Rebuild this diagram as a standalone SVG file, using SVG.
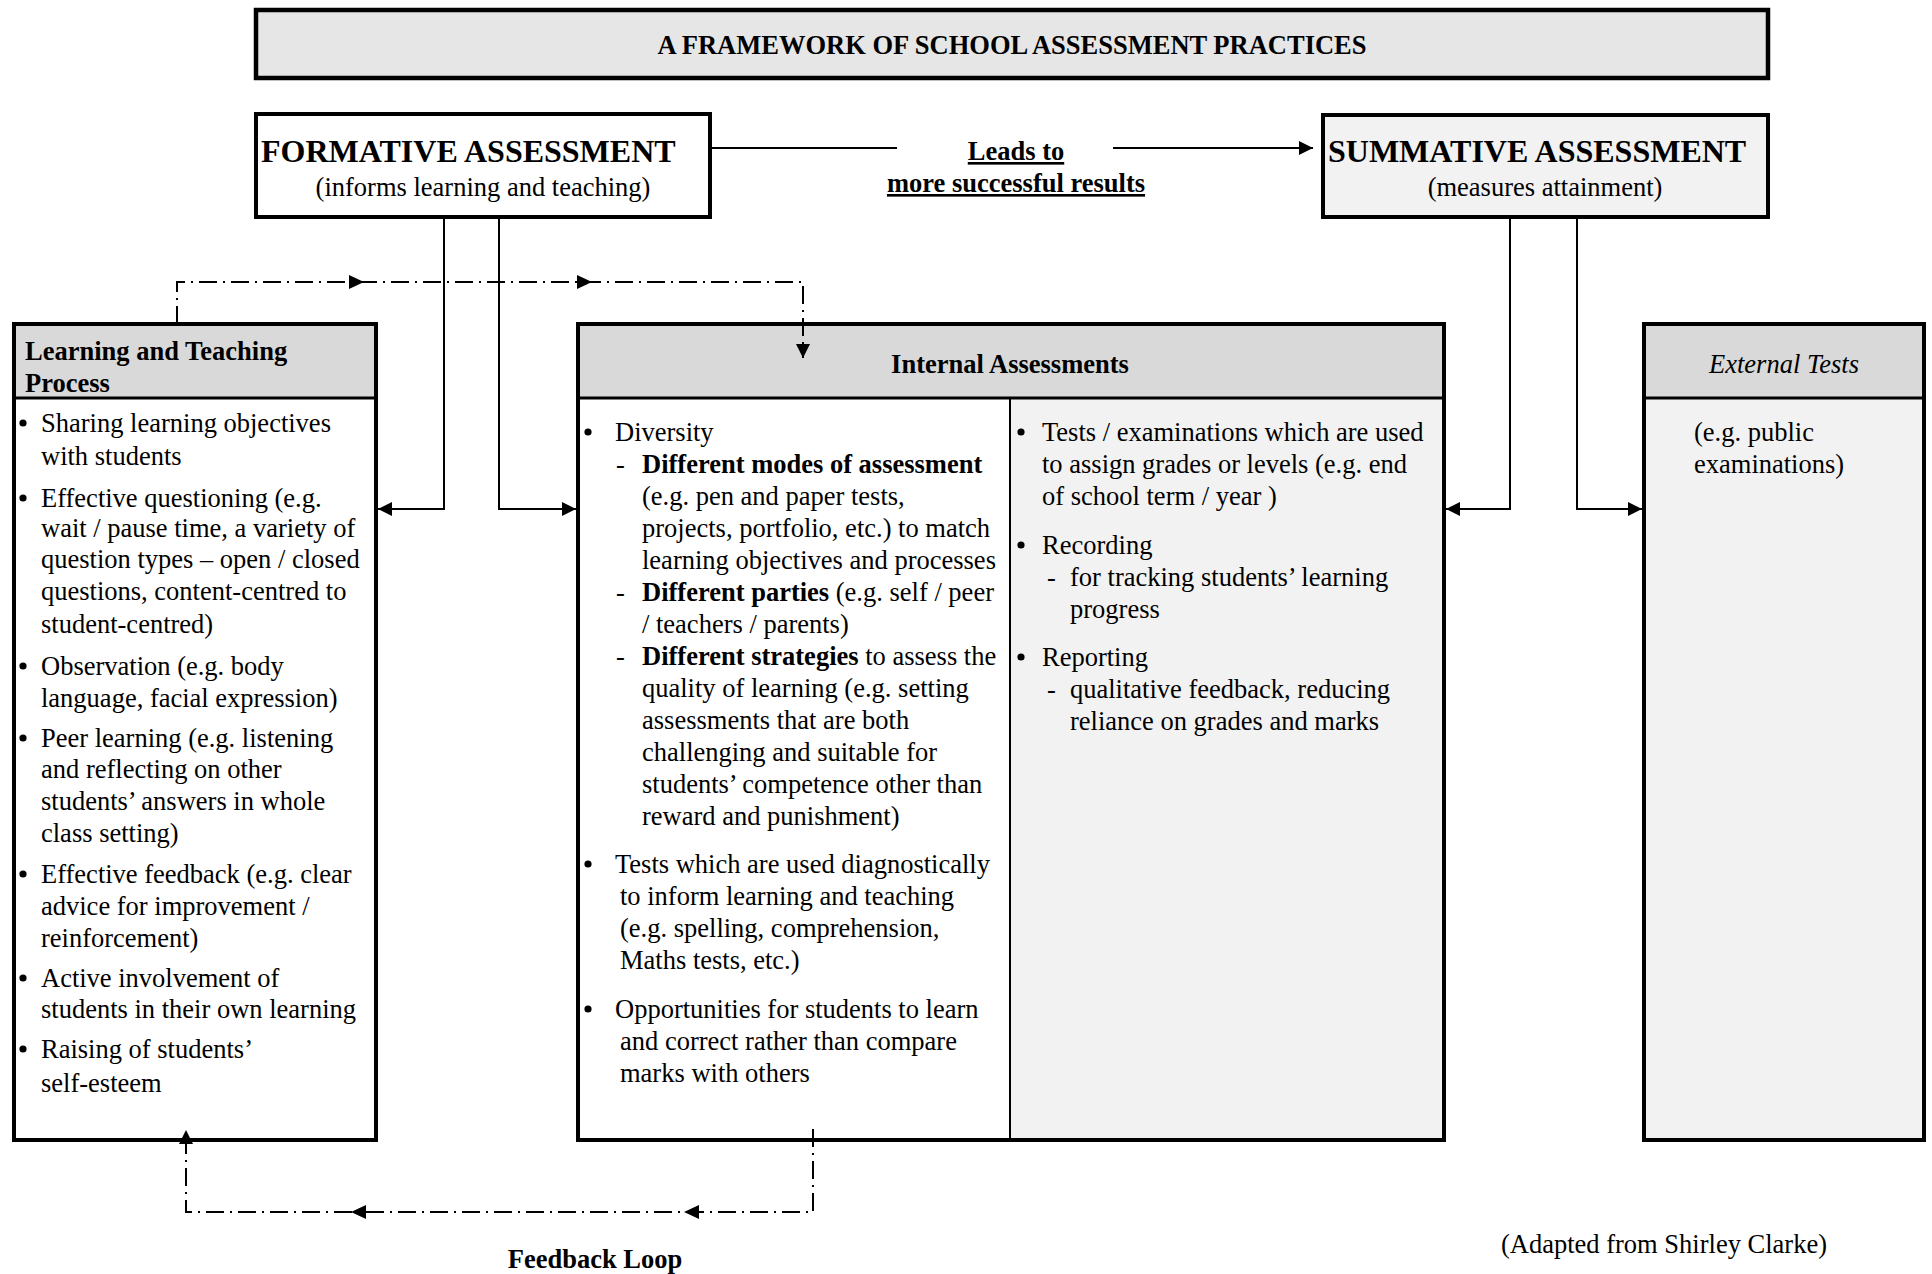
<svg xmlns="http://www.w3.org/2000/svg" width="1932" height="1274" viewBox="0 0 1932 1274">
<style>
text{font-family:"Liberation Serif","Times New Roman",serif;fill:#000}
.b{font-weight:bold}
.t{font-size:26.5px}
.big{font-size:32px;font-weight:bold}
.box{stroke:#000;stroke-width:4;fill:#fff}
.hdr{fill:#d9d9d9;stroke:none}
.gry{fill:#f2f2f2;stroke:none}
.sep{stroke:#000;stroke-width:3;fill:none}
.conn{stroke:#000;stroke-width:2;fill:none}
.dd{stroke:#000;stroke-width:2;fill:none;stroke-dasharray:18 6 2 6}
.ah{fill:#000}
.bl{fill:#000}
</style>
<defs>
<marker id="arr" markerUnits="userSpaceOnUse" markerWidth="16" markerHeight="14" refX="14" refY="7" orient="auto">
<path d="M0,0 L14,7 L0,14 Z" fill="#000"/>
</marker>
</defs>

<g id="title">
<rect x="256" y="10" width="1512" height="68" fill="#e6e6e6" stroke="#000" stroke-width="4.5"/>
<text class="t b" x="1012" y="54" text-anchor="middle">A FRAMEWORK OF SCHOOL ASSESSMENT PRACTICES</text>
</g>

<g id="formative">
<rect class="box" x="256" y="114" width="454" height="103"/>
<text class="big" x="261" y="162">FORMATIVE ASSESSMENT</text>
<text class="t" x="483" y="196" text-anchor="middle">(informs learning and teaching)</text>
</g>

<g id="summative">
<rect x="1323" y="115" width="445" height="102" fill="#f2f2f2" stroke="#000" stroke-width="4"/>
<text class="big" x="1328" y="162">SUMMATIVE ASSESSMENT</text>
<text class="t" x="1545" y="196" text-anchor="middle">(measures attainment)</text>
</g>

<g id="leads-to">
<text class="t b" x="1016" y="160" text-anchor="middle" text-decoration="underline">Leads to</text>
<text class="t b" x="1016" y="192" text-anchor="middle" text-decoration="underline">more successful results</text>
</g>

<g id="learning-teaching">
<rect x="14" y="324" width="362" height="816" fill="#fff"/>
<rect class="hdr" x="14" y="324" width="362" height="74"/>
<line class="sep" x1="14" y1="398" x2="376" y2="398"/>
<rect x="14" y="324" width="362" height="816" fill="none" stroke="#000" stroke-width="4"/>
<text class="t b" x="25" y="360">Learning and Teaching</text>
<text class="t b" x="25" y="392">Process</text>
<circle class="bl" cx="23" cy="423" r="3.6"/><text class="t" x="41" y="432">Sharing learning objectives</text>
<text class="t" x="41" y="465">with students</text>
<circle class="bl" cx="23" cy="498" r="3.6"/><text class="t" x="41" y="507">Effective questioning (e.g.</text>
<text class="t" x="41" y="537">wait / pause time, a variety of</text>
<text class="t" x="41" y="568">question types – open / closed</text>
<text class="t" x="41" y="600">questions, content-centred to</text>
<text class="t" x="41" y="633">student-centred)</text>
<circle class="bl" cx="23" cy="666" r="3.6"/><text class="t" x="41" y="675">Observation (e.g. body</text>
<text class="t" x="41" y="707">language, facial expression)</text>
<circle class="bl" cx="23" cy="738" r="3.6"/><text class="t" x="41" y="747">Peer learning (e.g. listening</text>
<text class="t" x="41" y="778">and reflecting on other</text>
<text class="t" x="41" y="810">students’ answers in whole</text>
<text class="t" x="41" y="842">class setting)</text>
<circle class="bl" cx="23" cy="874" r="3.6"/><text class="t" x="41" y="883">Effective feedback (e.g. clear</text>
<text class="t" x="41" y="915">advice for improvement /</text>
<text class="t" x="41" y="947">reinforcement)</text>
<circle class="bl" cx="23" cy="978" r="3.6"/><text class="t" x="41" y="987">Active involvement of</text>
<text class="t" x="41" y="1018">students in their own learning</text>
<circle class="bl" cx="23" cy="1049" r="3.6"/><text class="t" x="41" y="1058">Raising of students’</text>
<text class="t" x="41" y="1092">self-esteem</text>
</g>

<g id="internal">
<rect x="578" y="324" width="866" height="816" fill="#fff"/>
<rect class="gry" x="1010" y="398" width="434" height="742"/>
<rect class="hdr" x="578" y="324" width="866" height="74"/>
<line class="sep" x1="578" y1="398" x2="1444" y2="398"/>
<line x1="1010" y1="398" x2="1010" y2="1140" stroke="#000" stroke-width="2"/>
<rect x="578" y="324" width="866" height="816" fill="none" stroke="#000" stroke-width="4"/>
<text class="t b" x="1010" y="373" text-anchor="middle">Internal Assessments</text>
<circle class="bl" cx="588" cy="432" r="3.6"/><text class="t" x="615" y="441">Diversity</text>
<text class="t" x="616" y="473">-</text><text class="t" x="642" y="473"><tspan class="b">Different modes of assessment</tspan></text>
<text class="t" x="642" y="505">(e.g. pen and paper tests,</text>
<text class="t" x="642" y="537">projects, portfolio, etc.) to match</text>
<text class="t" x="642" y="569">learning objectives and processes</text>
<text class="t" x="616" y="601">-</text><text class="t" x="642" y="601"><tspan class="b">Different parties</tspan> (e.g. self / peer</text>
<text class="t" x="642" y="633">/ teachers / parents)</text>
<text class="t" x="616" y="665">-</text><text class="t" x="642" y="665"><tspan class="b">Different strategies</tspan> to assess the</text>
<text class="t" x="642" y="697">quality of learning (e.g. setting</text>
<text class="t" x="642" y="729">assessments that are both</text>
<text class="t" x="642" y="761">challenging and suitable for</text>
<text class="t" x="642" y="793">students’ competence other than</text>
<text class="t" x="642" y="825">reward and punishment)</text>
<circle class="bl" cx="588" cy="864" r="3.6"/><text class="t" x="615" y="873">Tests which are used diagnostically</text>
<text class="t" x="620" y="905">to inform learning and teaching</text>
<text class="t" x="620" y="937">(e.g. spelling, comprehension,</text>
<text class="t" x="620" y="969">Maths tests, etc.)</text>
<circle class="bl" cx="588" cy="1009" r="3.6"/><text class="t" x="615" y="1018">Opportunities for students to learn</text>
<text class="t" x="620" y="1050">and correct rather than compare</text>
<text class="t" x="620" y="1082">marks with others</text>
<circle class="bl" cx="1021" cy="432" r="3.6"/><text class="t" x="1042" y="441">Tests / examinations which are used</text>
<text class="t" x="1042" y="473">to assign grades or levels (e.g. end</text>
<text class="t" x="1042" y="505">of school term / year )</text>
<circle class="bl" cx="1021" cy="545" r="3.6"/><text class="t" x="1042" y="554">Recording</text>
<text class="t" x="1047" y="586">-</text><text class="t" x="1070" y="586">for tracking students’ learning</text>
<text class="t" x="1070" y="618">progress</text>
<circle class="bl" cx="1021" cy="657" r="3.6"/><text class="t" x="1042" y="666">Reporting</text>
<text class="t" x="1047" y="698">-</text><text class="t" x="1070" y="698">qualitative feedback, reducing</text>
<text class="t" x="1070" y="730">reliance on grades and marks</text>
</g>

<g id="external">
<rect class="gry" x="1644" y="324" width="280" height="816"/>
<rect class="hdr" x="1644" y="324" width="280" height="74"/>
<line class="sep" x1="1644" y1="398" x2="1924" y2="398"/>
<rect x="1644" y="324" width="280" height="816" fill="none" stroke="#000" stroke-width="4"/>
<text class="t" x="1784" y="373" text-anchor="middle" font-style="italic">External Tests</text>
<text class="t" x="1694" y="441">(e.g. public</text>
<text class="t" x="1694" y="473">examinations)</text>
</g>

<g id="connectors">
<line class="conn" x1="712" y1="148" x2="897" y2="148"/>
<line class="conn" x1="1113" y1="148" x2="1313" y2="148" marker-end="url(#arr)"/>
<path class="conn" d="M444,217 V509 H378" marker-end="url(#arr)"/>
<path class="conn" d="M499,217 V509 H576" marker-end="url(#arr)"/>
<path class="conn" d="M1510,217 V509 H1446" marker-end="url(#arr)"/>
<path class="conn" d="M1577,217 V509 H1642" marker-end="url(#arr)"/>
<path class="dd" d="M177,324 V282 H803 V358" marker-end="url(#arr)"/>
<path class="ah" d="M349,275 L364,282 L349,289 Z"/>
<path class="ah" d="M577,275 L592,282 L577,289 Z"/>
<path class="dd" d="M813,1129 V1212 H186 V1130" marker-end="url(#arr)"/>
<path class="ah" d="M699,1205 L684,1212 L699,1219 Z"/>
<path class="ah" d="M366,1205 L351,1212 L366,1219 Z"/>
</g>

<g id="footer">
<text class="t b" x="595" y="1268" text-anchor="middle">Feedback Loop</text>
<text class="t" x="1664" y="1253" text-anchor="middle">(Adapted from Shirley Clarke)</text>
</g>
</svg>
